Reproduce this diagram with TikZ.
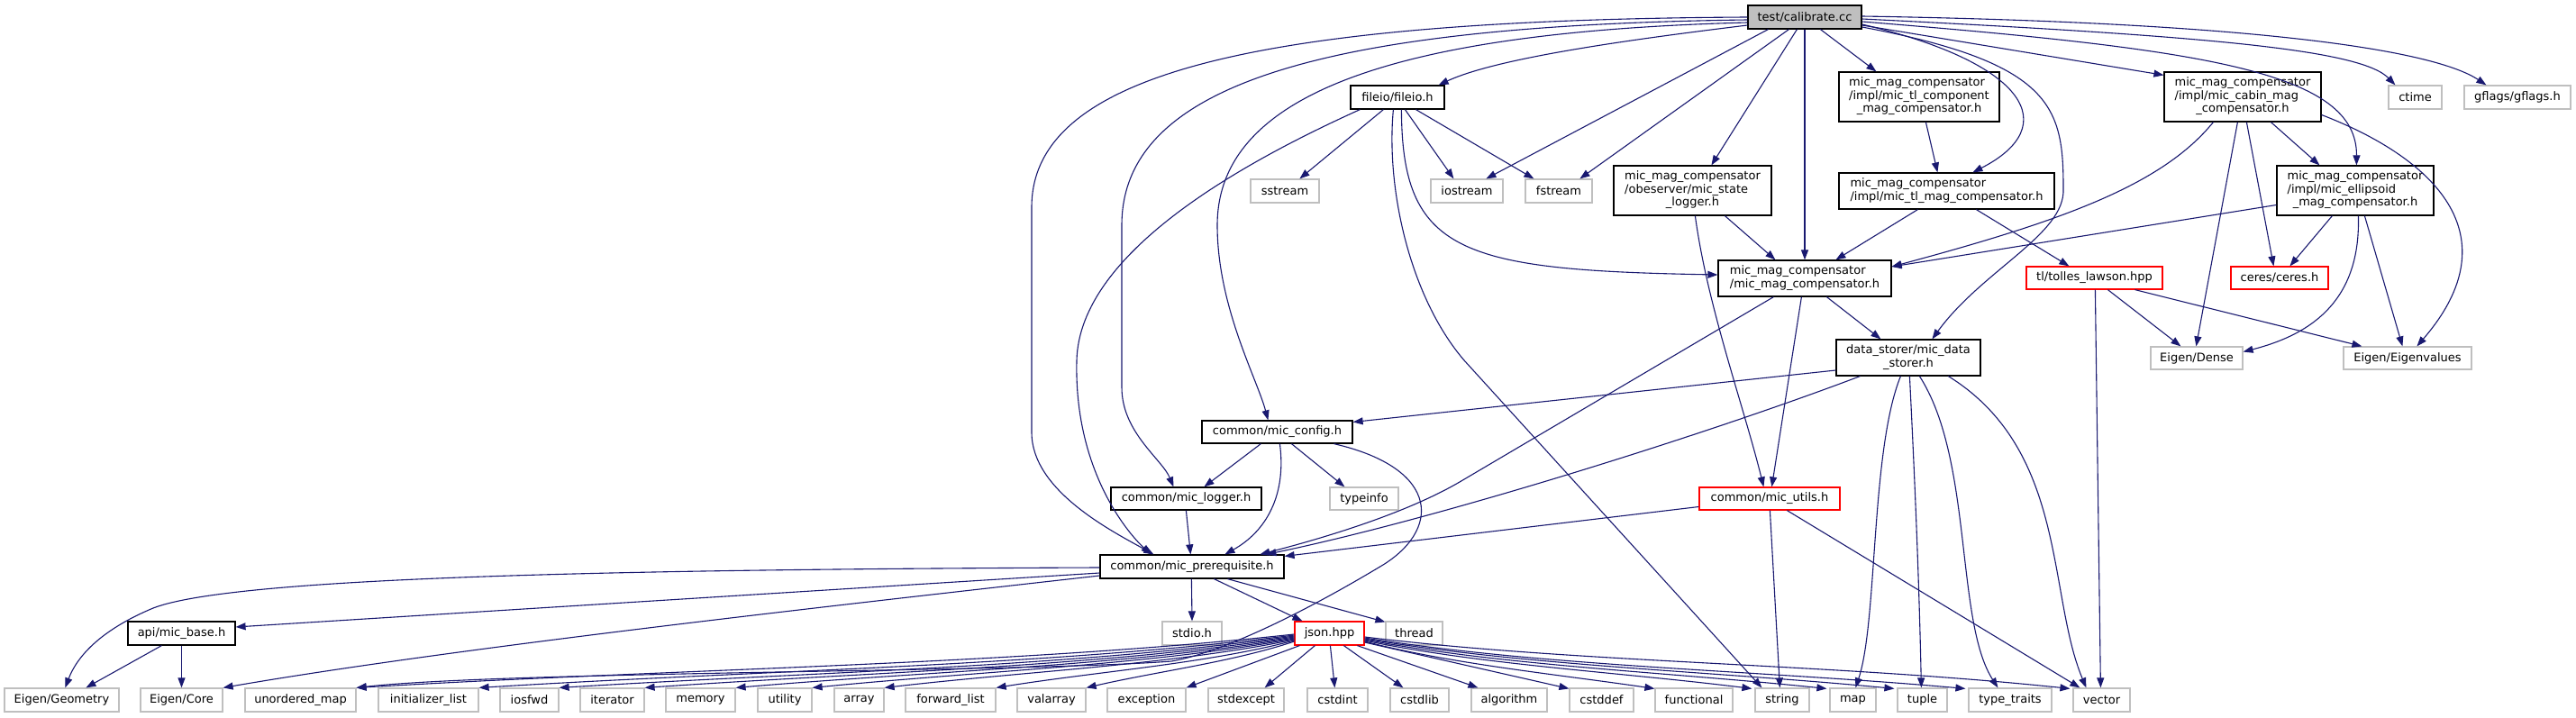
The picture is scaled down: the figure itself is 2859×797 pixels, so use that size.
\documentclass[tikz,border=0pt]{standalone}
\usepackage{fontspec}
\setmainfont{DejaVu Sans}
\usetikzlibrary{arrows.meta,calc}
\definecolor{edgeblue}{RGB}{25,25,112}
\definecolor{extgray}{RGB}{191,191,191}
\newcommand\bx[7]{\node[#1, minimum width={(#5-#3)*1pt}, minimum height={(#6-#4)*1pt}] (#2) at ({(#3+#5)/2},{(#4+#6)/2}) {#7};}
\newcommand\ml[2]{\begin{tabular}{@{}l@{}}#1\\\multicolumn{1}{@{}c@{}}{#2}\end{tabular}}
\begin{document}
\begin{tikzpicture}[x=1pt,y=-1pt,
  every node/.style={font=\fontsize{13}{14.5}\selectfont, inner sep=0pt, line width=1.2pt, text=black},
  docbox/.style={draw=black, fill=white},
  extbox/.style={draw=extgray, fill=white},
  redbox/.style={draw=red, fill=white},
  rootbox/.style={draw=black, fill=extgray},
  dep/.style={draw=edgeblue, line width=1.1pt, -{Triangle[length=11pt,width=8pt]}}]
\fill[white] (0,0) rectangle (2859,797);
\useasboundingbox (0,0) rectangle (2859,797);

% nodes
\bx{rootbox}{T}{1940}{6}{2066}{32}{test/calibrate.cc}
\bx{docbox}{F}{1499}{95}{1603}{121}{fileio/fileio.h}
\bx{extbox}{sstream}{1388}{199}{1464}{225}{sstream}
\bx{extbox}{iostream}{1588}{199}{1668}{225}{iostream}
\bx{extbox}{fstream}{1693}{199}{1767}{225}{fstream}
\bx{docbox}{SL}{1791}{184}{1966}{239}{\ml{mic\_mag\_compensator\\/obeserver/mic\_state}{\_logger.h}}
\bx{docbox}{TC}{2041}{80}{2219}{135}{\ml{mic\_mag\_compensator\\/impl/mic\_tl\_component}{\_mag\_compensator.h}}
\bx{docbox}{TM}{2041}{192}{2280}{232}{\ml{mic\_mag\_compensator}{/impl/mic\_tl\_mag\_compensator.h}}
\bx{docbox}{CB}{2402}{80}{2576}{135}{\ml{mic\_mag\_compensator\\/impl/mic\_cabin\_mag}{\_compensator.h}}
\bx{extbox}{ctime}{2651}{95}{2710}{121}{ctime}
\bx{extbox}{gflags}{2735}{95}{2853}{121}{gflags/gflags.h}
\bx{docbox}{EL}{2527}{184}{2701}{239}{\ml{mic\_mag\_compensator\\/impl/mic\_ellipsoid}{\_mag\_compensator.h}}
\bx{docbox}{M}{1907}{289}{2099}{329}{\ml{mic\_mag\_compensator}{/mic\_mag\_compensator.h}}
\bx{redbox}{TL}{2249}{296}{2400}{321}{tl/tolles\_lawson.hpp}
\bx{redbox}{CE}{2476}{296}{2584}{321}{ceres/ceres.h}
\bx{extbox}{ED}{2387}{385}{2489}{410}{Eigen/Dense}
\bx{extbox}{EV}{2601}{385}{2743}{410}{Eigen/Eigenvalues}
\bx{docbox}{D}{2038}{377}{2198}{417}{\ml{data\_storer/mic\_data}{\_storer.h}}
\bx{docbox}{C}{1334}{467}{1501}{492}{common/mic\_config.h}
\bx{docbox}{L}{1233}{541}{1400}{566}{common/mic\_logger.h}
\bx{extbox}{typeinfo}{1476}{541}{1552}{566}{typeinfo}
\bx{redbox}{U}{1886}{541}{2042}{566}{common/mic\_utils.h}
\bx{docbox}{P}{1221}{616}{1425}{642}{common/mic\_prerequisite.h}
\bx{docbox}{B}{142}{690}{261}{716}{api/mic\_base.h}
\bx{extbox}{stdio}{1290}{690}{1356}{716}{stdio.h}
\bx{redbox}{J}{1437}{690}{1514}{716}{json.hpp}
\bx{extbox}{thread}{1538}{690}{1601}{716}{thread}
% bottom row
\bx{extbox}{EG}{5}{764}{132}{790}{Eigen/Geometry}
\bx{extbox}{EC}{156}{764}{247}{790}{Eigen/Core}
\bx{extbox}{um}{272}{764}{395}{790}{unordered\_map}
\bx{extbox}{il}{420}{764}{531}{790}{initializer\_list}
\bx{extbox}{iosfwd}{555}{764}{620}{790}{iosfwd}
\bx{extbox}{iterator}{644}{764}{715}{790}{iterator}
\bx{extbox}{memory}{739}{764}{816}{790}{memory}
\bx{extbox}{utility}{841}{764}{901}{790}{utility}
\bx{extbox}{array}{926}{764}{981}{790}{array}
\bx{extbox}{fwl}{1005}{764}{1105}{790}{forward\_list}
\bx{extbox}{valarray}{1129}{764}{1205}{790}{valarray}
\bx{extbox}{exception}{1229}{764}{1316}{790}{exception}
\bx{extbox}{stdexcept}{1341}{764}{1425}{790}{stdexcept}
\bx{extbox}{cstdint}{1451}{764}{1518}{790}{cstdint}
\bx{extbox}{cstdlib}{1543}{764}{1608}{790}{cstdlib}
\bx{extbox}{algorithm}{1633}{764}{1717}{790}{algorithm}
\bx{extbox}{cstddef}{1742}{764}{1813}{790}{cstddef}
\bx{extbox}{functional}{1837}{764}{1923}{790}{functional}
\bx{extbox}{string}{1948}{764}{2008}{790}{string}
\bx{extbox}{map}{2031}{764}{2082}{790}{map}
\bx{extbox}{tuple}{2106}{764}{2161}{790}{tuple}
\bx{extbox}{tt}{2185}{764}{2277}{790}{type\_traits}
\bx{extbox}{vector}{2301}{764}{2364}{790}{vector}

% edges from test/calibrate.cc
\draw[dep] ($(T.west)+(0,9)$) .. controls (1800,45) and (1660,65) .. ($(F.north east)+(-7,0)$);
\draw[dep] ($(T.south west)+(23,0)$) -- ($(iostream.north west)+(62,0)$);
\draw[dep] ($(T.south west)+(46,0)$) -- ($(fstream.north west)+(61,0)$);
\draw[dep] ($(T.south west)+(55,0)$) -- ($(SL.north west)+(109,0)$);
\draw[dep] (T.south) -- (M.north);
\draw[dep] ($(T.south west)+(81,0)$) -- ($(TC.north west)+(42,0)$);
\draw[dep] ($(T.east)+(0,8)$) .. controls (2250,70) and (2290,140) .. ($(TM.north west)+(149,0)$);
\draw[dep] ($(T.east)+(0,11)$) .. controls (2280,70) and (2290,120) .. (2290,210) .. controls (2292,260) and (2200,300) .. ($(D.north west)+(107,0)$);
\draw[dep] ($(T.east)+(0,9)$) -- ($(CB.north west)+(0,4)$);
\draw[dep] ($(T.east)+(0,5)$) .. controls (2450,55) and (2616,80) .. ($(EL.north west)+(89,0)$);
\draw[dep] ($(T.east)+(0,2)$) .. controls (2450,40) and (2620,55) .. ($(ctime.north west)+(8,0)$);
\draw[dep] ($(T.east)+(0,-1)$) .. controls (2500,25) and (2700,55) .. ($(gflags.north west)+(25,0)$);
\draw[dep] (T.west) .. controls (1400,22) and (1145,80) .. (1145,230) -- (1145,480) .. controls (1145,545) and (1235,590) .. ($(P.north west)+(60,0)$);
\draw[dep] ($(T.west)+(0,3)$) .. controls (1480,28) and (1245,90) .. (1245,250) -- (1245,430) .. controls (1245,480) and (1290,510) .. ($(L.north west)+(70,0)$);
\draw[dep] ($(T.west)+(0,6)$) .. controls (1560,35) and (1351,100) .. (1351,250) .. controls (1351,340) and (1395,420) .. ($(C.north west)+(74,0)$);

% fileio
\draw[dep] ($(F.south west)+(37,0)$) -- ($(sstream.north west)+(55,0)$);
\draw[dep] ($(F.south west)+(61,0)$) -- ($(iostream.north west)+(26,0)$);
\draw[dep] ($(F.south west)+(73,0)$) -- ($(fstream.north west)+(10,0)$);
\draw[dep] ($(F.south west)+(11,0)$) .. controls (1380,180) and (1198,280) .. (1195,400) .. controls (1192,520) and (1250,590) .. ($(P.north west)+(57,0)$);
\draw[dep] ($(F.south west)+(48,0)$) .. controls (1538,210) and (1565,330) .. (1625,400) -- ($(string.north west)+(8,0)$);
\draw[dep] ($(F.south west)+(57,0)$) .. controls (1556,280) and (1620,300) .. ($(M.west)+(0,-4)$);

% state logger, components
\draw[dep] ($(SL.south west)+(124,0)$) -- ($(M.north west)+(64,0)$);
\draw[dep] ($(SL.south west)+(91,0)$) .. controls (1895,340) and (1935,450) .. ($(U.north west)+(72,0)$);
\draw[dep] ($(TC.south west)+(97,0)$) -- ($(TM.north west)+(110,0)$);
\draw[dep] ($(TM.south west)+(88,0)$) -- ($(M.north west)+(131,0)$);
\draw[dep] ($(TM.south west)+(153,0)$) -- ($(TL.north west)+(48,0)$);

% cabin
\draw[dep] ($(CB.south west)+(55,0)$) .. controls (2400,205) and (2290,245) .. ($(M.east)+(0,-13)$);
\draw[dep] ($(CB.south west)+(82,0)$) -- ($(ED.north west)+(51,0)$);
\draw[dep] ($(CB.south west)+(92,0)$) -- ($(CE.north west)+(48,0)$);
\draw[dep] ($(CB.south west)+(119,0)$) -- ($(EL.north west)+(48,0)$);
\draw[dep] ($(CB.east)+(0,20)$) .. controls (2700,175) and (2790,260) .. ($(EV.north west)+(82,0)$);

% ellipsoid
\draw[dep] ($(EL.west)+(0,16)$) -- ($(M.east)+(0,-13)$);
\draw[dep] ($(EL.south west)+(62,0)$) -- ($(CE.north west)+(66,0)$);
\draw[dep] ($(EL.south west)+(91,0)$) .. controls (2620,330) and (2570,370) .. ($(ED.east)+(0,-7)$);
\draw[dep] ($(EL.south west)+(98,0)$) -- ($(EV.north west)+(66,0)$);

% tolles lawson
\draw[dep] ($(TL.south west)+(91,0)$) -- ($(ED.north west)+(34,0)$);
\draw[dep] ($(TL.south west)+(121,0)$) -- ($(EV.north west)+(21,0)$);
\draw[dep] ($(TL.south west)+(77,0)$) -- ($(vector.north west)+(31,0)$);

% mic_mag_compensator.h
\draw[dep] ($(M.south west)+(121,0)$) -- ($(D.north west)+(50,0)$);
\draw[dep] ($(M.south west)+(93,0)$) -- ($(U.north west)+(81,0)$);
\draw[dep] ($(M.south west)+(62,0)$) -- (1620,535) .. controls (1560,570) and (1470,597) .. ($(P.north west)+(178,0)$);

% data storer
\draw[dep] ($(D.west)+(0,14)$) -- ($(C.east)+(0,-11)$);
\draw[dep] ($(D.south west)+(27,0)$) .. controls (1900,480) and (1600,575) .. ($(P.north west)+(185,0)$);
\draw[dep] ($(D.south west)+(72,0)$) .. controls (2076,500) and (2084,690) .. ($(map.north west)+(29,0)$);
\draw[dep] ($(D.south west)+(82,0)$) .. controls (2126,550) and (2130,650) .. ($(tuple.north west)+(27,0)$);
\draw[dep] ($(D.south west)+(93,0)$) .. controls (2190,510) and (2170,690) .. ($(tt.north west)+(33,0)$);
\draw[dep] ($(D.south west)+(125,0)$) .. controls (2295,500) and (2272,660) .. ($(vector.north west)+(15,0)$);

% utils
\draw[dep] ($(U.west)+(0,9)$) -- ($(P.north east)+(0,2)$);
\draw[dep] ($(U.south west)+(79,0)$) -- ($(string.north west)+(28,0)$);
\draw[dep] ($(U.south west)+(98,0)$) -- ($(vector.north west)+(8,0)$);

% config, logger
\draw[dep] ($(C.south west)+(66,0)$) -- ($(L.north west)+(104,0)$);
\draw[dep] ($(C.south west)+(87,0)$) .. controls (1428,550) and (1405,590) .. ($(P.north west)+(139,0)$);
\draw[dep] ($(C.south west)+(100,0)$) -- ($(typeinfo.north west)+(17,0)$);
\draw[dep] ($(C.south west)+(147,0)$) .. controls (1600,520) and (1600,590) .. (1530,630) .. controls (1480,660) and (1370,722) .. (1300,734) .. controls (1150,746) and (560,745) .. (um.north east);
\draw[dep] ($(L.south west)+(84,0)$) -- ($(P.north west)+(101,0)$);

% prerequisite
\draw[dep] ($(P.south west)+(102,0)$) -- (stdio.north);
\draw[dep] ($(P.south west)+(127,0)$) -- ($(J.north west)+(9,0)$);
\draw[dep] ($(P.south west)+(142,0)$) -- ($(thread.north west)+(0,1)$);
\draw[dep] ($(P.west)+(0,1)$) .. controls (700,632) and (260,640) .. (170,675) .. controls (110,700) and (85,730) .. ($(EG.north west)+(68,0)$);
\draw[dep] ($(P.west)+(0,7)$) -- ($(B.east)+(0,-7)$);
\draw[dep] ($(P.west)+(0,10)$) .. controls (900,675) and (500,720) .. (EC.north east);

% api/mic_base.h
\draw[dep] ($(B.south west)+(38,0)$) -- ($(EG.north west)+(91,0)$);
\draw[dep] (B.south) -- (EC.north);

% json.hpp
\draw[dep] ($(J.south west)+(6,0)$) -- (exception.north east);
\draw[dep] ($(J.south west)+(23,0)$) -- ($(stdexcept.north east)+(-22,0)$);
\draw[dep] ($(J.south west)+(40,0)$) -- ($(cstdint.north west)+(31,0)$);
\draw[dep] ($(J.south west)+(55,0)$) -- ($(cstdlib.north west)+(15,0)$);
\draw[dep] ($(J.south west)+(70,0)$) -- ($(algorithm.north west)+(8,0)$);
\draw[dep] ($(J.east)+(0,10)$) -- ($(cstddef.north west)+(0,1)$);
\draw[dep] ($(J.west)+(0,9)$) .. controls (1367,735) and (1286,745) .. (valarray.north east);
\draw[dep] ($(J.west)+(0,8)$) .. controls (1337,737) and (1221,745) .. (fwl.north east);
\draw[dep] ($(J.west)+(0,7)$) .. controls (1300,738) and (1141,745) .. (array.north east);
\draw[dep] ($(J.west)+(0,6)$) .. controls (1276,738) and (1089,745) .. (utility.north east);
\draw[dep] ($(J.west)+(0,5)$) .. controls (1251,739) and (1033,745) .. (memory.north east);
\draw[dep] ($(J.west)+(0,4)$) .. controls (1220,740) and (968,746) .. (iterator.north east);
\draw[dep] ($(J.west)+(0,3)$) .. controls (1192,740) and (906,746) .. (iosfwd.north east);
\draw[dep] ($(J.west)+(0,2)$) .. controls (1165,739) and (848,744) .. (il.north east);
\draw[dep] ($(J.west)+(0,1)$) .. controls (1124,738) and (760,742) .. (um.north east);
\draw[dep] ($(J.east)+(0,9)$) .. controls (1611,737) and (1724,748) .. ($(functional.north west)+(0,1)$);
\draw[dep] ($(J.east)+(0,8)$) .. controls (1644,738) and (1796,746) .. ($(string.north west)+(-3,1)$);
\draw[dep] ($(J.east)+(0,7)$) .. controls (1669,739) and (1850,746) .. ($(map.north west)+(-3,1)$);
\draw[dep] ($(J.east)+(0,6)$) .. controls (1692,739) and (1899,745) .. ($(tuple.north west)+(-3,1)$);
\draw[dep] ($(J.east)+(0,5)$) .. controls (1715,740) and (1950,744) .. ($(tt.north west)+(-3,1)$);
\draw[dep] ($(J.east)+(0,4)$) .. controls (1750,736) and (2025,736) .. ($(vector.north west)+(-3,1)$);
\end{tikzpicture}
\end{document}
